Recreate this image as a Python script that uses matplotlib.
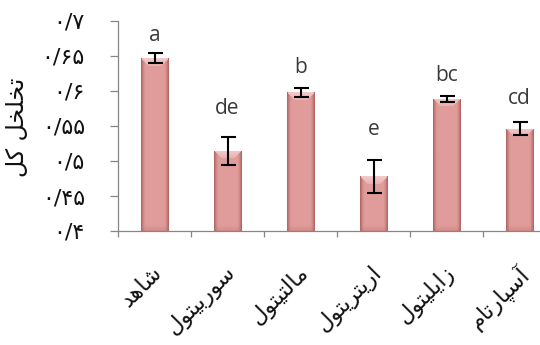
import numpy as np
import matplotlib
matplotlib.use("Agg")
import matplotlib.pyplot as plt
import matplotlib.transforms as mtransforms
from matplotlib.colors import to_rgb

# ---- data -------------------------------------------------------------
categories = ["شاهد", "سوربیتول", "مالتیتول", "اریتریتول", "زایلیتول", "آسپارتام"]
porosity = [0.647, 0.515, 0.598, 0.478, 0.589, 0.546]
porosity_err = [0.007, 0.020, 0.006, 0.023, 0.004, 0.009]
groups = ["a", "de", "b", "e", "bc", "cd"]
y_ticks = [0.40, 0.45, 0.50, 0.55, 0.60, 0.65, 0.70]
y_tick_labels = ["۰/۴", "۰/۴۵", "۰/۵", "۰/۵۵", "۰/۶", "۰/۶۵", "۰/۷"]
y_title = "تخلخل کل"

# ---- minimal Persian shaping (matplotlib has no bidi / joining) --------
# isolated, final, initial, medial
FORMS = {
    'ا': ('\uFE8D', '\uFE8E', None, None),
    'آ': ('\uFE81', '\uFE82', None, None),
    'د': ('\uFEA9', '\uFEAA', None, None),
    'ر': ('\uFEAD', '\uFEAE', None, None),
    'ز': ('\uFEAF', '\uFEB0', None, None),
    'و': ('\uFEED', '\uFEEE', None, None),
    'ب': ('\uFE8F', '\uFE90', '\uFE91', '\uFE92'),
    'ت': ('\uFE95', '\uFE96', '\uFE97', '\uFE98'),
    'خ': ('\uFEA5', '\uFEA6', '\uFEA7', '\uFEA8'),
    'س': ('\uFEB1', '\uFEB2', '\uFEB3', '\uFEB4'),
    'ش': ('\uFEB5', '\uFEB6', '\uFEB7', '\uFEB8'),
    'ل': ('\uFEDD', '\uFEDE', '\uFEDF', '\uFEE0'),
    'م': ('\uFEE1', '\uFEE2', '\uFEE3', '\uFEE4'),
    'ه': ('\uFEE9', '\uFEEA', '\uFEEB', '\uFEEC'),
    'پ': ('\uFB56', '\uFB57', '\uFB58', '\uFB59'),
    'ک': ('\uFB8E', '\uFB8F', '\uFB90', '\uFB91'),
    'ی': ('\uFBFC', '\uFBFD', '\uFBFE', '\uFBFF'),
}


def shape(text):
    out = []
    n = len(text)
    for i, ch in enumerate(text):
        forms = FORMS.get(ch)
        if forms is None:
            out.append(ch)
            continue
        prev = text[i - 1] if i > 0 else None
        nxt = text[i + 1] if i < n - 1 else None
        join_prev = prev in FORMS and FORMS[prev][2] is not None
        join_next = forms[2] is not None and nxt in FORMS
        if join_prev and join_next:
            f = forms[3]
        elif join_prev:
            f = forms[1]
        elif join_next:
            f = forms[2]
        else:
            f = forms[0]
        out.append(f)
    return ''.join(reversed(out))


# ---- figure -----------------------------------------------------------
W, H, DPI = 540, 345, 100
fig = plt.figure(figsize=(W / DPI, H / DPI), dpi=DPI)
ax_left, ax_right, ax_top, ax_bottom = 118, 556, 21, 231
ax = fig.add_axes([ax_left / W, 1 - ax_bottom / H,
                   (ax_right - ax_left) / W, (ax_bottom - ax_top) / H])

axis_gray = "#868686"
x = np.arange(len(categories))
ax.set_xlim(-0.5, len(categories) - 0.5)
ax.set_ylim(y_ticks[0], y_ticks[-1])

bar_w = 0.37
bars = ax.bar(x, np.array(porosity) - y_ticks[0], bottom=y_ticks[0], width=bar_w,
              color="#DC9896", edgecolor="#A86866", linewidth=0.6, zorder=2)

# shaded fill for each bar: dark sides, light bevel on top
edge_c = np.array(to_rgb("#B36866"))
mid_c = np.array(to_rgb("#E09C9A"))
top_c = np.array(to_rgb("#F6D3D2"))
px_per_x = (ax_right - ax_left) / len(categories)
px_per_y = (ax_bottom - ax_top) / (y_ticks[-1] - y_ticks[0])
for b in bars:
    wpx = max(int(round(b.get_width() * px_per_x)), 2)
    hpx = max(int(round(b.get_height() * px_per_y)), 2)
    u = np.abs(np.linspace(-1, 1, wpx))
    side = np.clip((u - 0.72) / 0.28, 0, 1) ** 1.3
    img = mid_c[None, None, :] + (edge_c - mid_c)[None, None, :] * side[None, :, None]
    img = np.repeat(img, hpx, axis=0)
    rows = np.arange(hpx)[:, None]
    bevel = 8
    # trapezoid bevel along the top edge
    mask = (rows < bevel) & (u[None, :] < 1 - rows / (wpx * 0.5) * 0.9)
    t = np.clip(1 - rows / bevel, 0, 1)
    img = np.where(mask[:, :, None], img + (top_c - img) * (0.35 + 0.5 * t[:, :, None]), img)
    # slightly darker base
    base = np.clip((rows - (hpx - 6)) / 6, 0, 1)
    img = img + (edge_c - img) * (0.35 * base[:, :, None])
    x0, y0 = b.get_x(), b.get_y()
    im = ax.imshow(np.clip(img, 0, 1), extent=[x0, x0 + b.get_width(), y0, y0 + b.get_height()],
                   aspect="auto", interpolation="bilinear", zorder=2.1)
    im.set_clip_path(b)

ax.errorbar(x, porosity, yerr=porosity_err, fmt="none", ecolor="black",
            elinewidth=1.5, capsize=5.4, capthick=1.5, zorder=4)

letter_offsets = [9, 16, 11, 18.5, 11, 13]
for xi, v, e, g, off in zip(x, porosity, porosity_err, groups, letter_offsets):
    ax.annotate(g, (xi, v + e), xytext=(0, off), textcoords="offset points",
                ha="center", va="baseline", fontsize=15, color="#3a3a3a",
                family=["Open Sans", "DejaVu Sans"], zorder=5)

# axes styling
for s in ("top", "right"):
    ax.spines[s].set_visible(False)
for s in ("left", "bottom"):
    ax.spines[s].set_color(axis_gray)
    ax.spines[s].set_linewidth(0.9)

ax.set_yticks(y_ticks)
ax.set_yticklabels(y_tick_labels, fontsize=16, family="DejaVu Sans")
ax.tick_params(axis="y", direction="out", length=5.8, width=0.9, color=axis_gray,
               pad=18, labelcolor="#111111")

ax.set_xticks(np.arange(len(categories) + 1) - 0.5)
ax.set_xticklabels([])
ax.tick_params(axis="x", which="major", direction="out", length=4.5, width=0.9,
               color=axis_gray)
ax.set_xticks(x, minor=True)
ax.set_xticklabels([shape(c) for c in categories], minor=True, rotation=45,
                   ha="right", va="top", rotation_mode="anchor",
                   fontsize=16, family="DejaVu Sans", color="#111111")
ax.tick_params(axis="x", which="minor", length=0, pad=22)
shift = mtransforms.ScaledTranslation(-3 / DPI, 0, fig.dpi_scale_trans)
for lab in ax.get_xticklabels(minor=True):
    lab.set_transform(lab.get_transform() + shift)

fig.text(17 / W, 1 - 127 / H, shape(y_title), rotation=90, ha="center", va="center",
         fontsize=17, family="DejaVu Sans", color="#111111")

fig.savefig("out.png", dpi=DPI)
